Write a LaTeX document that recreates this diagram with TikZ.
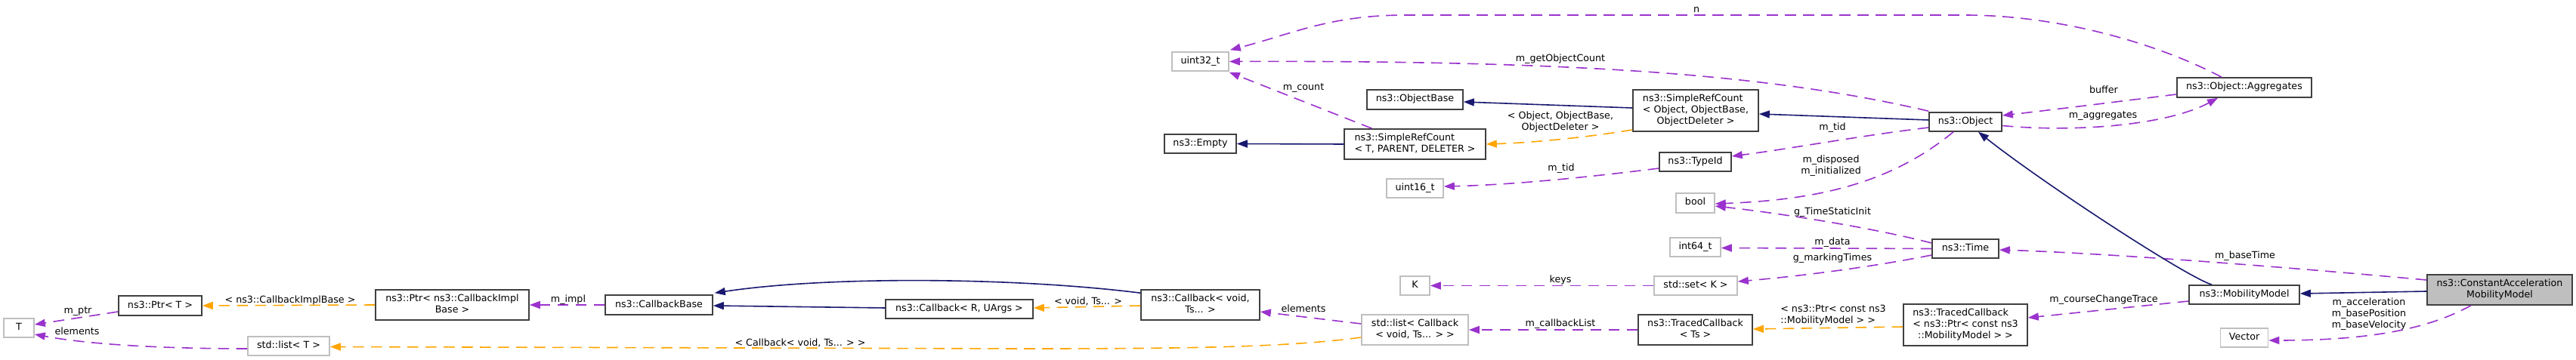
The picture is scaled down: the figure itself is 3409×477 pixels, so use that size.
\documentclass[tikz,border=0pt]{standalone}
\usepackage{fontspec}
\setmainfont{DejaVu Sans}
\usetikzlibrary{arrows.meta,calc}
\definecolor{pu}{HTML}{9A32CD}
\definecolor{orng}{HTML}{FFA500}
\definecolor{nv}{HTML}{191970}
\definecolor{dk}{HTML}{404040}
\definecolor{lg}{HTML}{BFBFBF}
\newcommand\ctab[1]{\begin{tabular}{@{}c@{}}#1\end{tabular}}
\newcommand\ltab[1]{\begin{tabular}{@{}l@{}}#1\end{tabular}}
\newcommand\dxf{\fontsize{9.5pt}{11.25pt}\selectfont}
\tikzset{
  sz/.style 2 args={minimum width=#1*0.75pt, minimum height=#2*0.75pt},
  cls/.style={draw=dk, fill=white, line width=1.2pt, inner sep=0pt, font=\dxf},
  ext/.style={cls, draw=lg},
  mainc/.style={cls, fill=lg},
  lbl/.style={inner sep=0pt, font=\dxf},
  tip/.style={-{Triangle[length=10.5pt,width=7.5pt]}},
  mem/.style={draw=pu, line width=1.2pt, dash pattern=on 11pt off 7pt, tip},
  tpl/.style={draw=orng, line width=1.2pt, dash pattern=on 11pt off 7pt, tip},
  inh/.style={draw=nv, line width=1.2pt, tip},
}
\begin{document}
\begin{tikzpicture}[x=0.75pt,y=-0.75pt]
\fill[white] (0,0) rectangle (3409,477);
\useasboundingbox (0,0) rectangle (3409,477);

% ---------- nodes ----------
\node[ext, sz={40}{25}]   (T)      at (25,434.5)    {\ctab{T}};
\node[cls, sz={110}{26}]  (PtrT)   at (212,405)     {\ctab{ns3::Ptr< T >}};
\node[ext, sz={108}{25}]  (listT)  at (382,458.5)   {\ctab{std::list< T >}};
\node[cls, sz={203}{40}]  (PtrCIB) at (598.5,404)   {\ctab{ns3::Ptr< ns3::CallbackImpl\\Base >}};
\node[cls, sz={142}{26}]  (CBBase) at (872,404)     {\ctab{ns3::CallbackBase}};
\node[cls, sz={195}{25}]  (CBRU)   at (1269.5,409.5){\ctab{ns3::Callback< R, UArgs >}};
\node[cls, sz={157}{40}]  (CBvoid) at (1588.5,404)  {\ctab{ns3::Callback< void,\\Ts... >}};
\node[ext, sz={75}{25}]   (uint32) at (1588.5,81.5) {\ctab{uint32\_t}};
\node[cls, sz={95}{25}]   (Empty)  at (1588.5,190.5){\ctab{ns3::Empty}};
\node[ext, sz={141}{40}]  (listCB) at (1872.5,437)  {\ctab{std::list< Callback\\< void, Ts... > >}};
\node[ext, sz={39}{25}]   (K)      at (1872.5,378.5){\ctab{K}};
\node[ext, sz={75}{25}]   (uint16) at (1872.5,249.5){\ctab{uint16\_t}};
\node[cls, sz={127}{26}]  (ObjBase) at (1872.5,132) {\ctab{ns3::ObjectBase}};
\node[cls, sz={187}{40}]  (SRCT)   at (1872.5,191)  {\ltab{ns3::SimpleRefCount\\< T, PARENT, DELETER >}};
\node[cls, sz={166}{55}]  (SRCObj) at (2244,146.5)  {\ltab{ns3::SimpleRefCount\\< Object, ObjectBase,\\\multicolumn{1}{@{}c@{}}{ObjectDeleter >}}};
\node[cls, sz={95}{25}]   (TypeId) at (2243.5,214.5){\ctab{ns3::TypeId}};
\node[ext, sz={51}{26}]   (bool)   at (2243.5,269)  {\ctab{bool}};
\node[ext, sz={67}{25}]   (int64)  at (2243.5,327.5){\ctab{int64\_t}};
\node[ext, sz={110}{25}]  (setK)   at (2244,378.5)  {\ctab{std::set< K >}};
\node[cls, sz={151}{40}]  (TCTs)   at (2243.5,437)  {\ctab{ns3::TracedCallback\\< Ts >}};
\node[cls, sz={96}{25}]   (Object) at (2601,161.5)  {\ctab{ns3::Object}};
\node[cls, sz={88}{25}]   (Time)   at (2601,329.5)  {\ctab{ns3::Time}};
\node[cls, sz={164}{55}]  (TCPtr)  at (2601,430.5)  {\ltab{ns3::TracedCallback\\< ns3::Ptr< const ns3\\\multicolumn{1}{@{}c@{}}{::MobilityModel > >}}};
\node[cls, sz={178}{26}]  (Aggr)   at (2970,116)    {\ctab{ns3::Object::Aggregates}};
\node[cls, sz={146}{25}]  (MobM)   at (2970,390.5)  {\ctab{ns3::MobilityModel}};
\node[ext, sz={63}{25}]   (Vector) at (2970,447.5)  {\ctab{Vector}};
\node[mainc, sz={192}{40}] (CAMM)  at (3308,384)    {\ctab{ns3::ConstantAcceleration\\MobilityModel}};

% ---------- edge labels ----------
\node[lbl] (ln)    at (2245,13.5)   {\ctab{n}};
\node[lbl] (lgoc)  at (2065,78.5)   {\ctab{m\_getObjectCount}};
\node[lbl] (lcount) at (1725,116.5) {\ctab{m\_count}};
\node[lbl] (lood)  at (2065,162.5)  {\ctab{< Object, ObjectBase,\\ObjectDeleter >}};
\node[lbl] (ltida) at (2425,169.5)  {\ctab{m\_tid}};
\node[lbl] (ltidb) at (2066,223.5)  {\ctab{m\_tid}};
\node[lbl] (ldisp) at (2423,220.5)  {\ctab{m\_disposed\\m\_initialized}};
\node[lbl] (lbuf)  at (2784,120.5)  {\ctab{buffer}};
\node[lbl] (lagg)  at (2783,153.5)  {\ctab{m\_aggregates}};
\node[lbl] (ltsi)  at (2425,281.5)  {\ctab{g\_TimeStaticInit}};
\node[lbl] (ldata) at (2425,321.5)  {\ctab{m\_data}};
\node[lbl] (lmark) at (2425,342.5)  {\ctab{g\_markingTimes}};
\node[lbl] (lkeys) at (2065,371.5)  {\ctab{keys}};
\node[lbl] (lbt)   at (2971,339.5)  {\ctab{m\_baseTime}};
\node[lbl] (lcct)  at (2784,397.5)  {\ctab{m\_courseChangeTrace}};
\node[lbl] (lptr)  at (2426,418)    {\ltab{< ns3::Ptr< const ns3\\::MobilityModel > >}};
\node[lbl] (lacc)  at (3135,416.5)  {\ctab{m\_acceleration\\m\_basePosition\\m\_baseVelocity}};
\node[lbl] (lcbl)  at (2065,429.5)  {\ctab{m\_callbackList}};
\node[lbl] (lelb)  at (1725,410.5)  {\ctab{elements}};
\node[lbl] (lvts)  at (1440,400.5)  {\ctab{< void, Ts... >}};
\node[lbl] (lcvt)  at (1059,455.5)  {\ctab{< Callback< void, Ts... > >}};
\node[lbl] (limpl) at (752,397.5)   {\ctab{m\_impl}};
\node[lbl] (lcib)  at (384,398.5)   {\ctab{< ns3::CallbackImplBase >}};
\node[lbl] (lmptr) at (103,412.5)   {\ctab{m\_ptr}};
\node[lbl] (lela)  at (102,440.5)   {\ctab{elements}};

% ---------- edges ----------
\draw[inh] ($(CAMM.west)+(0,2)$) -- ($(MobM.east)+(0,-1.5)$);
\draw[mem] ($(CAMM.west)+(0,-13)$) .. controls (3050,356) and (2800,336) .. ($(Time.east)+(0,1.5)$);
\draw[mem] ($(CAMM.south)+(-38,0)$) .. controls (3220,432) and (3150,451) .. ($(Vector.east)+(0,3.5)$);
\draw[inh] ($(MobM.north)+(-43,0)$) .. controls (2890,365) and (2700,240) .. ($(Object.south)+(17,0)$);
\draw[mem] ($(MobM.west)+(0,8.5)$) -- ($(TCPtr.east)+(0,-9.5)$);
\draw[tpl] ($(TCPtr.west)+(0,2.5)$) -- ($(TCTs.east)+(0,-1)$);
\draw[mem] (TCTs.west) -- (listCB.east);
\draw[mem] ($(listCB.west)+(0,-8)$) -- ($(CBvoid.east)+(0,9)$);
\draw[tpl] ($(listCB.west)+(0,10)$) .. controls (1700,461) and (1550,462) .. (1350,462) -- ($(listT.east)+(0,1)$);
\draw[mem] ($(listT.west)+(0,3.5)$) .. controls (200,462) and (110,455) .. ($(T.east)+(0,8.5)$);
\draw[inh] ($(CBvoid.north west)+(0,5)$) .. controls (1350,368) and (1100,365) .. ($(CBBase.north east)+(2,-2)$);
\draw[tpl] ($(CBvoid.west)+(0,1)$) -- ($(CBRU.east)+(0,-1.5)$);
\draw[inh] ($(CBRU.west)+(0,-1.5)$) -- ($(CBBase.east)+(0,1)$);
\draw[mem] (CBBase.west) -- (PtrCIB.east);
\draw[tpl] (PtrCIB.west) -- (PtrT.east);
\draw[mem] ($(PtrT.west)+(0,8)$) -- ($(T.east)+(0,-4.5)$);
\draw[mem] ($(Time.west)+(0,-7.5)$) .. controls (2470,300) and (2350,282) .. ($(bool.east)+(0,4)$);
\draw[mem] (Time.west) -- ($(int64.east)+(0,1)$);
\draw[mem] ($(Time.west)+(0,8.5)$) .. controls (2470,355) and (2380,366) .. ($(setK.east)+(0,-5.5)$);
\draw[mem] (setK.west) -- (K.east);
\draw[inh] ($(Object.west)+(0,-2.5)$) -- ($(SRCObj.east)+(0,4.5)$);
\draw[mem] ($(Object.west)+(0,7.5)$) .. controls (2460,180) and (2370,197) .. ($(TypeId.east)+(0,-7.5)$);
\draw[mem] ($(Object.south)+(-16,0)$) .. controls (2500,245) and (2400,265) .. ($(bool.east)+(0,1)$);
\draw[mem] ($(Object.east)+(0,5)$) .. controls (2750,176) and (2870,165) .. ($(Aggr.south)+(-35,0)$);
\draw[mem] ($(Aggr.west)+(0,9)$) .. controls (2800,135) and (2720,145) .. ($(Object.east)+(0,-8.5)$);
\draw[mem] ($(Aggr.north)+(-30,0)$) .. controls (2850,55) and (2720,20) .. (2600,20) -- (1860,20) .. controls (1760,20) and (1710,45) .. ($(uint32.north east)+(1,-2)$);
\draw[mem] ($(Object.north west)+(0,-1)$) .. controls (2350,100) and (2100,80) .. (uint32.east);
\draw[inh] ($(SRCObj.west)+(0,-3.5)$) -- ($(ObjBase.east)+(0,3)$);
\draw[tpl] ($(SRCObj.west)+(0,25.5)$) .. controls (2100,182) and (2030,189) .. (SRCT.east);
\draw[inh] (SRCT.west) -- (Empty.east);
\draw[mem] ($(SRCT.north)+(-57,0)$) -- ($(uint32.south east)+(0,1)$);
\draw[mem] ($(TypeId.west)+(0,8.5)$) .. controls (2100,235) and (2000,245) .. ($(uint16.east)+(0,-2.5)$);
\end{tikzpicture}
\end{document}
